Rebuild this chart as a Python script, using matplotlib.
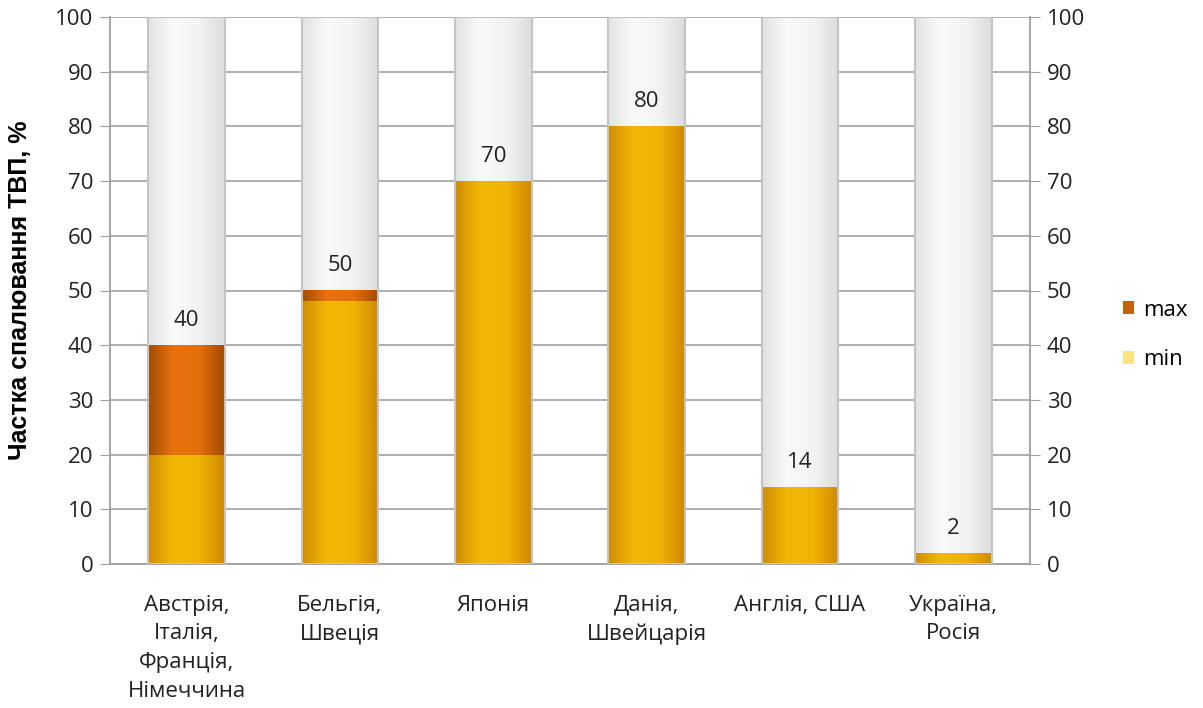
import numpy as np
import matplotlib
matplotlib.use("Agg")
import matplotlib.pyplot as plt
from matplotlib.colors import LinearSegmentedColormap
from matplotlib.patches import Patch, Rectangle

plt.rcParams['font.family'] = ['Open Sans', 'DejaVu Sans']

# дані
categories = ['Австрія,\nІталія,\nФранція,\nНімеччина', 'Бельгія,\nШвеція', 'Японія',
              'Данія,\nШвейцарія', 'Англія, США', 'Україна,\nРосія']
min_vals = [20, 48, 70, 80, 14, 2]
max_vals = [40, 50, 70, 80, 14, 2]
y_ticks = list(range(0, 101, 10))

# градієнти для стовпців
cm_min = LinearSegmentedColormap.from_list('mn', ['#D08C02', '#F2B806', '#F0B405', '#CF8800'])
cm_max = LinearSegmentedColormap.from_list('mx', ['#A24D02', '#E8720F', '#E36E0D', '#A04A00'])
cm_bg = LinearSegmentedColormap.from_list('bg', ['#E2E2E2', '#FAFAFA', '#F3F3F3', '#DCDCDC'])
grad = np.linspace(0, 1, 256).reshape(1, -1)

fig = plt.figure(figsize=(12.03, 7.08), dpi=100)
ax = fig.add_axes([110 / 1203, 1 - 564 / 708, 920 / 1203, 547 / 708])

w = 0.5
x = np.arange(len(categories))

for i in x:
    x0, x1 = i - w / 2, i + w / 2
    # сірий фон до 100
    ax.imshow(grad, cmap=cm_bg, extent=[x0, x1, 0, 100], aspect='auto', zorder=2)
    ax.add_patch(Rectangle((x0, 0), w, 100, fill=False, edgecolor='#C4C4C4', lw=1.5, zorder=4))
    ax.imshow(grad, cmap=cm_min, extent=[x0, x1, 0, min_vals[i]], aspect='auto', zorder=3)
    if max_vals[i] > min_vals[i]:
        ax.imshow(grad, cmap=cm_max, extent=[x0, x1, min_vals[i], max_vals[i]], aspect='auto', zorder=3)
    ax.annotate(str(max_vals[i]), (i, max_vals[i]), xytext=(0, 18), textcoords='offset points',
                ha='center', va='center', fontsize=16, color='#222222', zorder=5)

ax.set_xlim(-0.5, len(categories) - 0.5)
ax.set_ylim(0, 100)
ax.set_yticks(y_ticks)
ax.set_xticks(x)
ax.set_xticklabels(categories, fontsize=16, linespacing=1.49, color='#222222')
ax.tick_params(axis='x', length=0, pad=22)
ax.tick_params(axis='y', labelsize=16, length=7, color='#A0A0A0', labelcolor='#222222', pad=5)
ax.grid(axis='y', color='#A8A8A8', lw=1.3, zorder=1)
ax.set_axisbelow(True)
ax.spines['top'].set_visible(False)
for s in ['left', 'right', 'bottom']:
    ax.spines[s].set_color('#A0A0A0')
    ax.spines[s].set_linewidth(1.3)

ax2 = ax.twinx()
ax2.set_ylim(0, 100)
ax2.set_yticks(y_ticks)
ax2.tick_params(axis='y', labelsize=16, length=7, color='#A0A0A0', labelcolor='#222222', pad=5)
for s in ['top', 'left', 'bottom', 'right']:
    ax2.spines[s].set_visible(False)

ax.set_ylabel('Частка спалювання ТВП, %', fontsize=18, fontweight='bold',
              family=['Liberation Sans', 'DejaVu Sans'])
ax.yaxis.set_label_coords(-78 / 920, 0.5)

handles = [Patch(facecolor='#C4620A', label='max'), Patch(facecolor='#FFE47C', label='min')]
fig.legend(handles=handles, loc='center left', bbox_to_anchor=(1103 / 1203, 1 - 335 / 708),
           frameon=False, fontsize=16, handlelength=0.5, handleheight=0.5, handletextpad=0.4,
           labelspacing=1.3)

fig.savefig('out.png', dpi=100)
